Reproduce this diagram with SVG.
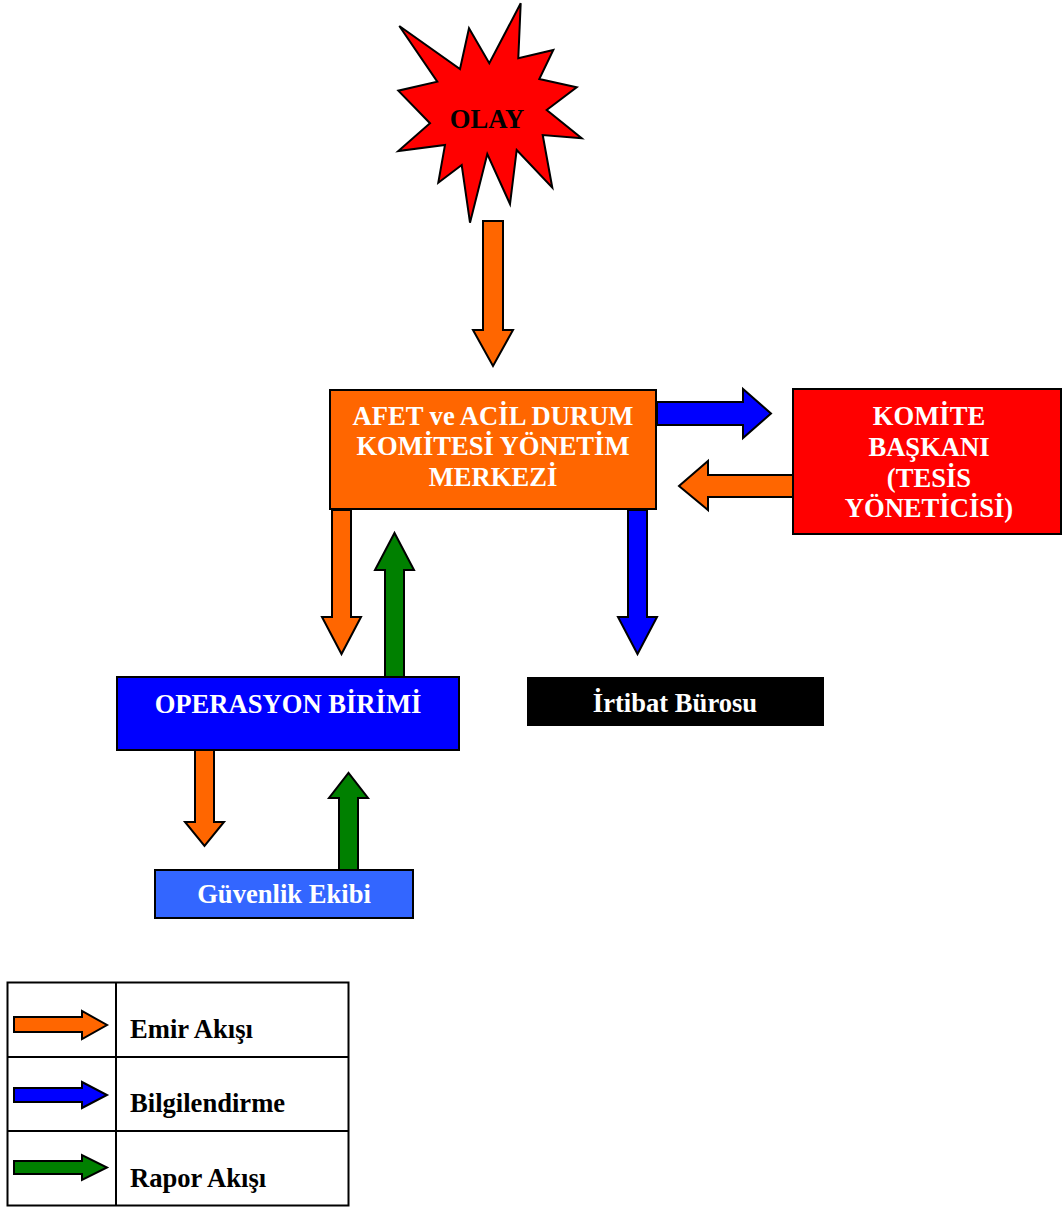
<svg xmlns="http://www.w3.org/2000/svg" width="1062" height="1207" viewBox="0 0 1062 1207">
  <style>
    .lbl { font-family: "Liberation Serif", "Times New Roman", serif; font-weight: bold; font-size: 26.6px; }
    .w { fill: #FFFFFF; text-anchor: middle; }
    .k { fill: #000000; }
    .box { stroke: #000000; stroke-width: 2; }
    .arr { stroke: #000000; stroke-width: 2; stroke-linejoin: miter; }
    .emir { fill: #FF6600; }
    .bilgi { fill: #0000FF; }
    .rapor { fill: #008000; }
    .grid { fill: none; stroke: #000000; stroke-width: 2; }
  </style>

  <rect width="1062" height="1207" fill="#FFFFFF"/>

  <!-- Event: explosion star -->
  <g id="olay">
    <polygon class="box" fill="#FF0000" points="399.3,26 460,69 469,28.3 489.3,63.3 520.7,3.3 518.3,58.3 553.3,50 539.3,79 576.7,87.3 546.7,110 581.7,138.3 542.7,135 552.3,187.7 516.7,150 510,204 487.3,154 470,222.7 461.7,165 438.3,182.7 445,145 398.3,151 430,123.3 398.3,90.7 437.3,81.7"/>
    <text class="lbl k" x="487" y="128" text-anchor="middle">OLAY</text>
  </g>

  <!-- Committee management centre -->
  <g id="yonetim-merkezi">
    <rect class="box" x="330" y="390" width="326" height="119" fill="#FF6600"/>
    <text class="lbl w" x="493" y="425">AFET ve ACİL DURUM</text>
    <text class="lbl w" x="493" y="455">KOMİTESİ YÖNETİM</text>
    <text class="lbl w" x="493" y="486">MERKEZİ</text>
  </g>

  <!-- Committee chair -->
  <g id="komite-baskani">
    <rect class="box" x="793" y="389" width="268" height="145" fill="#FF0000"/>
    <text class="lbl w" x="929" y="425">KOMİTE</text>
    <text class="lbl w" x="929" y="456">BAŞKANI</text>
    <text class="lbl w" x="929" y="487">(TESİS</text>
    <text class="lbl w" x="929" y="517">YÖNETİCİSİ)</text>
  </g>

  <!-- Operations unit -->
  <g id="operasyon-birimi">
    <rect class="box" x="117" y="677" width="342" height="73" fill="#0000FF"/>
    <text class="lbl w" x="288" y="713">OPERASYON BİRİMİ</text>
  </g>

  <!-- Liaison office -->
  <g id="irtibat-burosu">
    <rect x="527" y="677" width="297" height="49" fill="#000000"/>
    <text class="lbl w" x="675" y="712">İrtibat Bürosu</text>
  </g>

  <!-- Security team -->
  <g id="guvenlik-ekibi">
    <rect class="box" x="155" y="870" width="258" height="48" fill="#3366FF"/>
    <text class="lbl w" x="284" y="903">Güvenlik Ekibi</text>
  </g>

  <!-- Block arrows between units -->
  <g id="connectors">
    <polygon class="arr emir" points="483,221 503,221 503,330 513,330 493,366 473,330 483,330"/>
    <polygon class="arr bilgi" points="657,402 743,402 743,389 771,413.5 743,438 743,425 657,425"/>
    <polygon class="arr emir" points="793,475 708,475 708,461 679,486 708,510 708,497 793,497"/>
    <polygon class="arr emir" points="332,510 351,510 351,617 361,617 341.5,654 322,617 332,617"/>
    <polygon class="arr rapor" points="385,677 404,677 404,570 414,570 394.5,533 375,570 385,570"/>
    <polygon class="arr bilgi" points="628,510 647,510 647,617 657,617 637.5,654 618,617 628,617"/>
    <polygon class="arr emir" points="195,750 214,750 214,822 224,822 204.5,846 185,822 195,822"/>
    <polygon class="arr rapor" points="339,870 358,870 358,798 368,798 348.5,773 329,798 339,798"/>
  </g>

  <!-- Legend -->
  <g id="legend">
    <rect class="grid" x="7.5" y="982.5" width="341" height="223"/>
    <line class="grid" x1="116" y1="982.5" x2="116" y2="1205.5"/>
    <line class="grid" x1="7.5" y1="1057" x2="348.5" y2="1057"/>
    <line class="grid" x1="7.5" y1="1131" x2="348.5" y2="1131"/>
    <polygon class="arr emir" points="14,1017 82,1017 82,1011 107,1025 82,1039 82,1032 14,1032"/>
    <polygon class="arr bilgi" points="14,1088 82,1088 82,1082 107,1095 82,1108 82,1102 14,1102"/>
    <polygon class="arr rapor" points="14,1161 82,1161 82,1155 107,1167.5 82,1180 82,1174 14,1174"/>
    <text class="lbl k" x="130" y="1038">Emir Akışı</text>
    <text class="lbl k" x="130" y="1112">Bilgilendirme</text>
    <text class="lbl k" x="130" y="1187">Rapor Akışı</text>
  </g>
</svg>
